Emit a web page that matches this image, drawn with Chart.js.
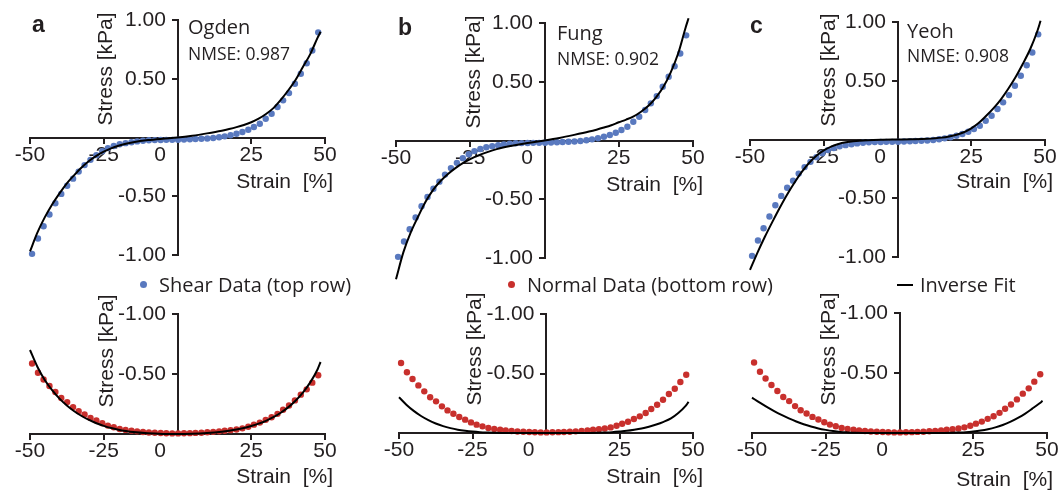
<!DOCTYPE html>
<html>
<head>
<meta charset="utf-8">
<script src="https://cdn.jsdelivr.net/npm/chart.js@4.4.1/dist/chart.umd.min.js"></script>
<style>
  body { margin: 0; background: #fff; }
  #page { position: relative; width: 1062px; height: 492px; overflow: hidden; color: #231f20;
          font-family: "Liberation Sans", Arial, sans-serif; }
  canvas { position: absolute; }
  .t { position: absolute; white-space: pre; line-height: 1; transform: translateY(-50%); }
  .tr { transform: translate(-100%, -50%); }
  .rot { transform: translate(-50%, -50%) rotate(-90deg); }
  .letter { font-weight: bold; font-size: 23px; }
  .model { font-family: "Open Sans", sans-serif; font-size: 20px; }
  .nmse { font-family: "Open Sans", sans-serif; font-size: 17.5px; }
  .axt { font-size: 21px; }
  .leg { font-family: "Open Sans", sans-serif; font-size: 20px; }
  .dot { position: absolute; width: 7px; height: 7px; border-radius: 4px; }
</style>
</head>
<body>
<div id="page">
  <canvas id="shearA" width="350" height="285" style="left:0;top:0"></canvas>
  <canvas id="shearB" width="370" height="285" style="left:350px;top:0"></canvas>
  <canvas id="shearC" width="362" height="285" style="left:700px;top:0"></canvas>
  <canvas id="normalA" width="350" height="202" style="left:0;top:290px"></canvas>
  <canvas id="normalB" width="370" height="202" style="left:350px;top:290px"></canvas>
  <canvas id="normalC" width="362" height="202" style="left:700px;top:290px"></canvas>

  <div class="t letter" style="left:32px;top:24px">a</div>
  <div class="t letter" style="left:398px;top:27px">b</div>
  <div class="t letter" style="left:750px;top:25px">c</div>

  <div class="t model" style="left:188px;top:27px">Ogden</div>
  <div class="t nmse" style="left:188px;top:54px">NMSE: 0.987</div>
  <div class="t model" style="left:557px;top:33px">Fung</div>
  <div class="t nmse" style="left:557px;top:59px">NMSE: 0.902</div>
  <div class="t model" style="left:907px;top:31px">Yeoh</div>
  <div class="t nmse" style="left:907px;top:56px">NMSE: 0.908</div>

  <div class="t axt rot" style="left:104px;top:69px">Stress [kPa]</div>
  <div class="t axt rot" style="left:472px;top:72px">Stress [kPa]</div>
  <div class="t axt rot" style="left:827px;top:70px">Stress [kPa]</div>
  <div class="t axt rot" style="left:105px;top:351px">Stress [kPa]</div>
  <div class="t axt rot" style="left:473px;top:349px">Stress [kPa]</div>
  <div class="t axt rot" style="left:827px;top:349px">Stress [kPa]</div>

  <div class="t axt tr" style="left:333px;top:180px">Strain  [%]</div>
  <div class="t axt tr" style="left:703px;top:183px">Strain  [%]</div>
  <div class="t axt tr" style="left:1053px;top:180px">Strain  [%]</div>
  <div class="t axt tr" style="left:333px;top:475px">Strain  [%]</div>
  <div class="t axt tr" style="left:703px;top:475px">Strain  [%]</div>
  <div class="t axt tr" style="left:1053px;top:478px">Strain  [%]</div>

  <div class="dot" style="left:140px;top:281px;background:#5979bf"></div>
  <div class="t leg" style="left:159px;top:285px">Shear Data (top row)</div>
  <div class="dot" style="left:508px;top:281px;background:#c8302d"></div>
  <div class="t leg" style="left:527px;top:285px">Normal Data (bottom row)</div>
  <div style="position:absolute;left:897px;top:284px;width:16px;height:2px;background:#000"></div>
  <div class="t leg" style="left:920px;top:285px">Inverse Fit</div>
</div>

<script>
// measured strain for both loading modes [%]
var strain = [-49.3, -47.3, -45.4, -43.4, -41.4, -39.4, -37.4, -35.4, -33.5, -31.5,
    -29.5, -27.5, -25.5, -23.6, -21.6, -19.6, -17.6, -15.6, -13.7, -11.7,
    -9.7, -7.7, -5.7, -3.8, -1.8, 0.2, 2.2, 4.2, 6.1, 8.1,
    10.1, 12.1, 14.1, 16.0, 18.0, 20.0, 22.0, 24.0, 25.9, 27.9,
    29.9, 31.9, 33.9, 35.8, 37.8, 39.8, 41.8, 43.8, 45.7, 47.7];

// shear stress (top row) [kPa]
var shearData = [-0.99, -0.86, -0.755, -0.655, -0.56, -0.48, -0.41, -0.35, -0.29, -0.235,
    -0.19, -0.15, -0.117, -0.09, -0.072, -0.058, -0.048, -0.04, -0.033, -0.028,
    -0.024, -0.022, -0.021, -0.02, -0.02, -0.019, -0.017, -0.015, -0.013, -0.011,
    -0.008, -0.004, 0.002, 0.010, 0.019, 0.032, 0.047, 0.066, 0.089, 0.117,
    0.160, 0.202, 0.259, 0.316, 0.378, 0.457, 0.542, 0.632, 0.74, 0.895];

// normal stress (bottom row) [kPa]
var normalData = [-0.588, -0.51, -0.454, -0.40, -0.35, -0.30, -0.266, -0.224, -0.19, -0.162,
    -0.134, -0.112, -0.089, -0.07, -0.056, -0.042, -0.034, -0.028, -0.022, -0.017,
    -0.013, -0.01, -0.008, -0.006, -0.005, -0.005, -0.006, -0.007, -0.009, -0.011,
    -0.014, -0.018, -0.022, -0.027, -0.032, -0.038, -0.047, -0.061, -0.078, -0.095,
    -0.118, -0.14, -0.168, -0.202, -0.238, -0.28, -0.328, -0.372, -0.428, -0.49];

// strain where the inverse fits are evaluated
var fitStrain = [-50, -47.5, -45, -42.5, -40, -37.5, -35, -32.5, -30, -27.5, -25, -22.5, -20, -17.5, -15, -10, -5,
    0, 5, 10, 15, 17.5, 20, 22.5, 25, 27.5, 30, 32.5, 35, 37.5, 40, 42.5, 45, 47.5, 48.5];

var ogdenShear = [-0.97, -0.81, -0.68, -0.57, -0.475, -0.39, -0.32, -0.255, -0.2, -0.157, -0.12, -0.092, -0.07, -0.053, -0.04, -0.022, -0.01,
    0, 0.015, 0.035, 0.058, 0.072, 0.088, 0.107, 0.13, 0.16, 0.2, 0.25, 0.32, 0.4, 0.49, 0.6, 0.71, 0.85, 0.9];
var fungShear = [-1.18, -0.95, -0.78, -0.645, -0.52, -0.42, -0.345, -0.285, -0.235, -0.193, -0.158, -0.129, -0.105, -0.084, -0.066, -0.04, -0.02,
    0, 0.022, 0.048, 0.076, 0.092, 0.11, 0.13, 0.155, 0.178, 0.205, 0.245, 0.295, 0.365, 0.455, 0.58, 0.74, 0.96, 1.04];
var yeohShear = [-1.11, -0.965, -0.83, -0.705, -0.585, -0.472, -0.37, -0.278, -0.2, -0.138, -0.092, -0.06, -0.038, -0.024, -0.015, -0.006, -0.002,
    0, 0.002, 0.006, 0.016, 0.026, 0.04, 0.062, 0.095, 0.14, 0.2, 0.265, 0.34, 0.43, 0.53, 0.645, 0.77, 0.93, 1.01];

var ogdenNormal = [-0.70, -0.56, -0.45, -0.365, -0.295, -0.238, -0.19, -0.15, -0.117, -0.09, -0.068, -0.05, -0.036, -0.025, -0.016, -0.006, -0.001,
    0, -0.002, -0.008, -0.019, -0.027, -0.037, -0.05, -0.066, -0.086, -0.11, -0.14, -0.177, -0.222, -0.277, -0.345, -0.43, -0.54, -0.6];
var fungNormal = [-0.30, -0.238, -0.186, -0.143, -0.108, -0.08, -0.058, -0.041, -0.028, -0.019, -0.012, -0.007, -0.004, -0.002, -0.001, 0, 0,
    0, 0, 0, -0.001, -0.002, -0.004, -0.007, -0.012, -0.018, -0.027, -0.038, -0.053, -0.071, -0.094, -0.123, -0.168, -0.228, -0.262];
var yeohNormal = [-0.295, -0.255, -0.218, -0.183, -0.151, -0.122, -0.096, -0.073, -0.054, -0.038, -0.026, -0.016, -0.009, -0.005, -0.002, 0, 0,
    0, 0, 0, -0.001, -0.002, -0.004, -0.007, -0.013, -0.021, -0.032, -0.047, -0.067, -0.092, -0.124, -0.16, -0.203, -0.248, -0.268];

// tick labels
var xTicks = [-50, -25, 0, 25, 50];
var yTicksShear = [-1, -0.5, 0, 0.5, 1];
var yTicksNormal = [-1, -0.5, 0];

var shearColor = '#5979bf';
var normalColor = '#c8302d';
var axisColor = '#231f20';
var tickFont = {family: '"Liberation Sans", Arial, sans-serif', size: 21};

var toPoints = function (xs, ys) {
    return xs.map(function (x, i) {
        return {x: x, y: ys[i]};
    });
};

var tickMark = function (ctx) {
    // no tick where the two axes cross
    return (ctx.tick && ctx.tick.value === 0) ? 'rgba(0,0,0,0)' : axisColor;
};

var makePanel = function (id, fitY, dataY, color, isShear, pad) {
    var yTicks = isShear ? yTicksShear : yTicksNormal;

    return new Chart(document.getElementById(id), {
        type: 'scatter',
        data: {
            datasets: [
                {
                    data: toPoints(fitStrain, fitY),
                    showLine: true,
                    borderColor: '#000',
                    borderWidth: 2,
                    pointRadius: 0,
                    cubicInterpolationMode: 'monotone',
                    clip: false
                },
                {
                    data: toPoints(strain, dataY),
                    pointRadius: 3.2,
                    pointBorderWidth: 0,
                    backgroundColor: color,
                    borderColor: color,
                    clip: false
                }
            ]
        },
        options: {
            responsive: false,
            animation: false,
            layout: {padding: pad},
            plugins: {legend: {display: false}, tooltip: {enabled: false}},
            scales: {
                x: {
                    type: 'linear',
                    min: -50,
                    max: 50,
                    position: {y: 0},
                    afterBuildTicks: function (scale) {
                        scale.ticks = xTicks.map(function (v) { return {value: v}; });
                    },
                    border: {color: axisColor, width: 2},
                    grid: {drawOnChartArea: false, tickLength: 5, lineWidth: 2, tickColor: tickMark},
                    ticks: {
                        font: tickFont,
                        color: axisColor,
                        padding: 0,
                        maxRotation: 0,
                        autoSkip: false,
                        callback: function (v) {
                            // the zero label sits left of the vertical axis
                            return v === 0 ? '0      ' : String(v);
                        }
                    }
                },
                y: {
                    type: 'linear',
                    min: -1,
                    max: isShear ? 1 : 0,
                    reverse: !isShear,
                    position: {x: 0},
                    afterBuildTicks: function (scale) {
                        scale.ticks = yTicks.map(function (v) { return {value: v}; });
                    },
                    border: {color: axisColor, width: 2},
                    grid: {drawOnChartArea: false, tickLength: 5, lineWidth: 2, tickColor: tickMark},
                    ticks: {
                        font: tickFont,
                        color: axisColor,
                        padding: 1,
                        autoSkip: false,
                        callback: function (v) {
                            return v === 0 ? '' : v.toFixed(2) + '  ';
                        }
                    }
                }
            }
        }
    });
};

var charts = [];
charts.push(makePanel('shearA', ogdenShear, shearData, shearColor, true, {left: 30, right: 25, top: 20, bottom: 30}));
charts.push(makePanel('shearB', fungShear, shearData, shearColor, true, {left: 46, right: 27, top: 23, bottom: 27}));
charts.push(makePanel('shearC', yeohShear, shearData, shearColor, true, {left: 50, right: 17, top: 22, bottom: 28}));
charts.push(makePanel('normalA', ogdenNormal, normalData, normalColor, false, {left: 30, right: 25, top: 24, bottom: 58}));
charts.push(makePanel('normalB', fungNormal, normalData, normalColor, false, {left: 49, right: 27, top: 24, bottom: 59}));
charts.push(makePanel('normalC', yeohNormal, normalData, normalColor, false, {left: 52, right: 15, top: 23, bottom: 59}));
</script>
</body>
</html>
